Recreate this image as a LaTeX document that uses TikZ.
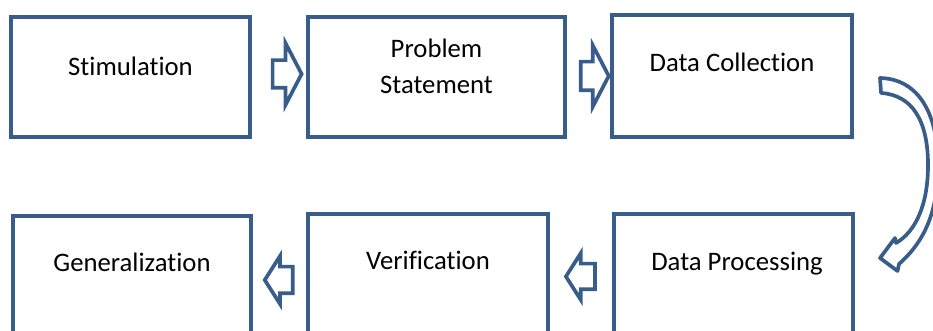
\documentclass[tikz,border=0pt]{standalone}
\usepackage{fontspec}
\setmainfont{Carlito}[Ligatures=NoCommon]
\usetikzlibrary{shapes.arrows}
\definecolor{boxblue}{RGB}{56,93,138}
\tikzset{
    stage/.style={draw=boxblue,line width=2.2pt,minimum height=2.42cm,inner sep=0pt,outer sep=0pt},
    lbl/.style={font=\fontsize{15.2}{20.4}\selectfont,align=center,anchor=base},
    blockarr/.style={single arrow,draw=boxblue,fill=white,line width=2.1pt,inner sep=0pt,text depth=0pt}
}
\begin{document}
\begin{tikzpicture}
                \clip (0,0) rectangle (18.66,6.62);
                
                \node[stage,minimum width=4.78cm,minimum height=2.40cm] (stim) at (2.61,5.08) {};
                \node[stage,minimum width=5.14cm,minimum height=2.40cm] (prob) at (8.73,5.08) {};
                \node[stage,minimum width=4.80cm,minimum height=2.44cm] (coll) at (14.64,5.10) {};
                \node[stage,minimum width=4.76cm] (gen) at (2.64,1.09) {};
                \node[stage,minimum width=4.80cm] (veri) at (8.56,1.13) {};
                \node[stage,minimum width=4.78cm] (proc) at (14.67,1.13) {};
                
                \node[lbl] at ([yshift=-1.18cm]stim.north) {Stimulation};
                \node[lbl,anchor=center] at ([yshift=-0.98cm]prob.north) {Problem\\Statement};
                \node[lbl] at ([yshift=-1.14cm]coll.north) {Data Collection};
                \node[lbl] at ([yshift=-1.12cm]gen.north) {Generalization};
                \node[lbl] at ([yshift=-1.12cm]veri.north) {Verification};
                \node[lbl] at ([xshift=0.07cm,yshift=-1.14cm]proc.north) {Data Processing};
                
                \node[blockarr,minimum height=0.58cm,text height=0.48cm,single arrow head extend=0.34cm,single arrow tip angle=125] (a1) at (5.67,5.14) {};
                \node[blockarr,minimum height=0.56cm,text height=0.50cm,single arrow head extend=0.33cm,single arrow tip angle=125] (a2) at (11.82,5.10) {};
                \node[blockarr,shape border rotate=180,minimum height=0.56cm,text height=0.46cm,single arrow head extend=0.21cm,single arrow tip angle=115] (a3) at (5.66,1.02) {};
                \node[blockarr,shape border rotate=180,minimum height=0.58cm,text height=0.44cm,single arrow head extend=0.21cm,single arrow tip angle=115] (a4) at (11.69,1.09) {};
                
                \draw[draw=boxblue,fill=white,line width=2.1pt,line join=round] (17.60,5.06) .. controls (18.40,5.04) and (18.76,4.30) .. (18.76,3.32) .. controls (18.76,2.40) and (18.50,1.80) .. (17.98,1.34) -- (17.95,1.20) -- (17.60,1.46) -- (17.90,1.86) -- (17.92,1.76) .. controls (18.30,1.98) and (18.56,2.50) .. (18.56,3.32) .. controls (18.56,4.20) and (18.25,4.72) .. (17.62,4.76) -- cycle;
            \end{tikzpicture}
\end{document}
